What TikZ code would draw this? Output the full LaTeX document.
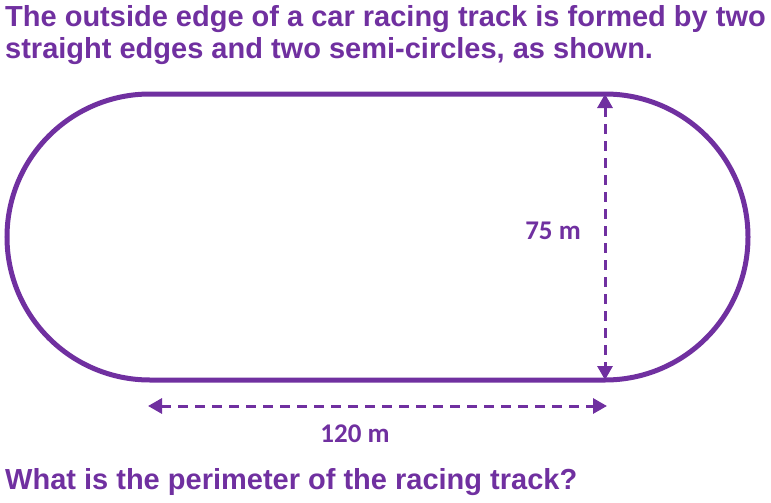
\documentclass[tikz,border=0pt]{standalone}
\usepackage{fontspec}
\setmainfont{Liberation Sans}
\newfontfamily\calfont{Carlito}
\usetikzlibrary{arrows.meta}
\definecolor{tpurple}{HTML}{7030A0}
\begin{document}
\begin{tikzpicture}[x=1pt,y=-1pt,
  track/.style={draw=tpurple,line width=5pt},
  dimline/.style={draw=tpurple,line width=3pt,dash pattern=on 10pt off 7pt,{Triangle[length=14pt,width=15pt]}-{Triangle[length=14pt,width=15pt]},shorten <=0pt,shorten >=0pt},
  title/.style={text=tpurple,font=\fontsize{29}{34}\selectfont\bfseries,anchor=base west,inner sep=0pt},
  dimlabel/.style={text=tpurple,font=\calfont\fontsize{27}{32}\selectfont\bfseries,inner sep=0pt}]
\useasboundingbox (0,0) rectangle (771,503);
\node[title] (t1) at (5,27) {The outside edge of a car racing track is formed by two};
\node[title] (t2) at (5,59) {straight edges and two semi-circles, as shown.};
\node[title] (t3) at (5,489) {What is the perimeter of the racing track?};
\coordinate (tl) at (150,94);
\coordinate (tr) at (605,94);
\coordinate (bl) at (150,380);
\coordinate (br) at (605,380);
\draw[track] (tl) -- (tr) arc[start angle=-90,end angle=90,radius=143] -- (bl) arc[start angle=90,end angle=270,radius=143] -- cycle;
\draw[dimline] (tr) -- (br);
\coordinate (hl) at (148,406);
\coordinate (hr) at (607,406);
\draw[dimline] (hl) -- (hr);
\node[dimlabel] (l75) at (553,231) {75 m};
\node[dimlabel] (l120) at (355,434) {120 m};
\end{tikzpicture}
\end{document}
